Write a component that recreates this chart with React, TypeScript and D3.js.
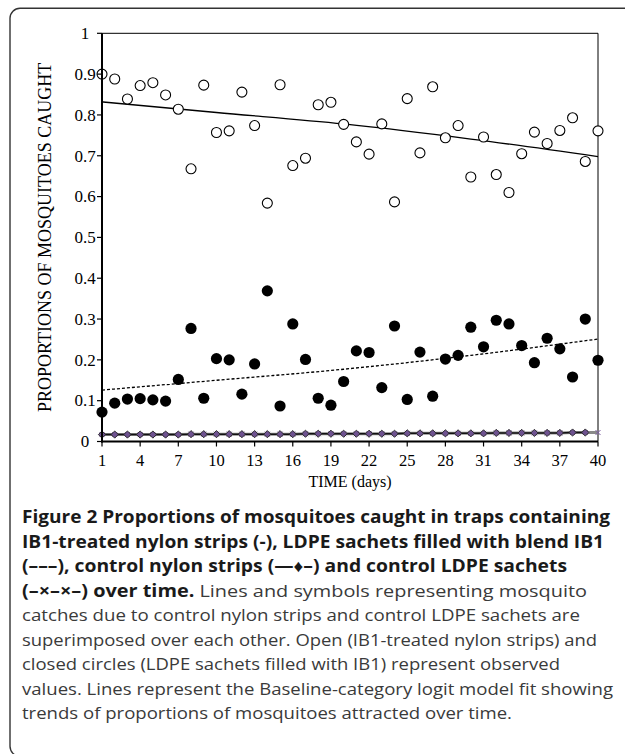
import React from "react";
import * as d3 from "d3";

// days of the experiment (x categories)
const days = d3.range(1, 41);
const xTickDays = [1, 4, 7, 10, 13, 16, 19, 22, 25, 28, 31, 34, 37, 40];

// IB1-treated nylon strips (open circles)
const nylonObserved = [
  0.900, 0.888, 0.839, 0.872, 0.879, 0.849, 0.814, 0.668, 0.873, 0.757,
  0.761, 0.856, 0.774, 0.584, 0.874, 0.676, 0.694, 0.825, 0.831, 0.777,
  0.734, 0.704, 0.778, 0.587, 0.840, 0.707, 0.869, 0.744, 0.774, 0.648,
  0.746, 0.654, 0.610, 0.705, 0.758, 0.730, 0.762, 0.793, 0.686, 0.761,
];

// LDPE sachets filled with IB1 (closed circles)
const sachetObserved = [
  0.072, 0.094, 0.104, 0.105, 0.102, 0.099, 0.152, 0.277, 0.106, 0.203,
  0.200, 0.116, 0.190, 0.369, 0.087, 0.288, 0.201, 0.106, 0.089, 0.147,
  0.222, 0.218, 0.132, 0.283, 0.103, 0.219, 0.111, 0.202, 0.211, 0.280,
  0.232, 0.297, 0.288, 0.235, 0.193, 0.253, 0.227, 0.158, 0.300, 0.199,
];

// model fits
const nylonFitDays = [1, 10, 20, 30, 40];
const nylonFit = [0.832, 0.806, 0.778, 0.741, 0.698];
const sachetFitDays = [1, 10, 20, 30, 40];
const sachetFit = [0.126, 0.150, 0.177, 0.211, 0.251];

// controls (superimposed)
const controlNylon = [
  0.017, 0.017, 0.017, 0.017, 0.017, 0.017, 0.017, 0.018, 0.018, 0.018,
  0.018, 0.018, 0.018, 0.018, 0.018, 0.018, 0.019, 0.019, 0.019, 0.019,
  0.019, 0.019, 0.019, 0.019, 0.020, 0.020, 0.020, 0.020, 0.020, 0.020,
  0.020, 0.021, 0.021, 0.021, 0.021, 0.021, 0.021, 0.022, 0.022,
];
const controlSachet = [
  0.017, 0.017, 0.017, 0.017, 0.017, 0.017, 0.017, 0.018, 0.018, 0.018,
  0.018, 0.018, 0.018, 0.018, 0.018, 0.018, 0.019, 0.019, 0.019, 0.019,
  0.019, 0.019, 0.019, 0.019, 0.020, 0.020, 0.020, 0.020, 0.020, 0.020,
  0.020, 0.021, 0.021, 0.021, 0.021, 0.021, 0.021, 0.022, 0.022, 0.022,
];

const yLabel = "PROPORTIONS OF MOSQUITOES CAUGHT";
const xLabel = "TIME (days)";

// caption lines: [text, bold]
const captionLines: { parts: [string, boolean][]; width: number }[] = [
  { parts: [["Figure 2 Proportions of mosquitoes caught in traps containing", true]], width: 588 },
  { parts: [["IB1-treated nylon strips (-), LDPE sachets filled with blend IB1", true]], width: 582 },
  { parts: [["(–––), control nylon strips (—♦–) and control LDPE sachets", true]], width: 545 },
  { parts: [["(–×–×–) over time.", true], [" Lines and symbols representing mosquito", false]], width: 565 },
  { parts: [["catches due to control nylon strips and control LDPE sachets are", false]], width: 558 },
  { parts: [["superimposed over each other. Open (IB1-treated nylon strips) and", false]], width: 575 },
  { parts: [["closed circles (LDPE sachets filled with IB1) represent observed", false]], width: 538 },
  { parts: [["values. Lines represent the Baseline-category logit model fit showing", false]], width: 591 },
  { parts: [["trends of proportions of mosquitoes attracted over time.", false]], width: 490 },
];

export default function App() {
  const W = 625;
  const H = 754;
  const plot = { left: 102, right: 598, top: 33.3, bottom: 441.5 };

  const x = d3.scaleLinear().domain([1, 40]).range([plot.left, plot.right]);
  const y = d3.scaleLinear().domain([0, 1]).range([plot.bottom, plot.top]);
  const yTicks = y.ticks(10);

  const fitLine = d3
    .line<[number, number]>()
    .x((d) => x(d[0]))
    .y((d) => y(d[1]))
    .curve(d3.curveMonotoneX);

  const nylonFitPath = fitLine(nylonFitDays.map((d, i) => [d, nylonFit[i]]));
  const sachetFitPath = fitLine(sachetFitDays.map((d, i) => [d, sachetFit[i]]));
  const straight = d3
    .line<[number, number]>()
    .x((d) => x(d[0]))
    .y((d) => y(d[1]));
  const ctrlSachetPath = straight(controlSachet.map((v, i) => [days[i], v]));
  const ctrlNylonPath = straight(controlNylon.map((v, i) => [days[i], v]));

  const serif = "'Liberation Serif', 'Times New Roman', serif";
  const sans = "'Open Sans', 'Noto Sans', sans-serif";

  return (
    <svg
      width={W}
      height={H}
      viewBox={`0 0 ${W} ${H}`}
      style={{ position: "absolute", left: 0, top: 0, background: "#fff" }}
    >
      <rect x={10} y={8.3} width={640} height={748} rx={10} fill="#fff" stroke="#333" strokeWidth={1.4} />

      {/* plot frame */}
      <line x1={plot.left} x2={plot.right} y1={plot.top} y2={plot.top} stroke="#000" strokeWidth={1} />
      <line x1={plot.right} x2={plot.right} y1={plot.top} y2={plot.bottom} stroke="#000" strokeWidth={1} />

      {/* fits */}
      <path d={nylonFitPath || ""} fill="none" stroke="#000" strokeWidth={1.3} />
      <path d={sachetFitPath || ""} fill="none" stroke="#000" strokeWidth={1.3} strokeDasharray="3,2" />

      {/* controls */}
      <path d={ctrlSachetPath || ""} fill="none" stroke="#8a8a8a" strokeWidth={3} />
      <path d={ctrlNylonPath || ""} fill="none" stroke="#111" strokeWidth={1.5} />
      {controlSachet.map((v, i) => {
        const cx = x(days[i]);
        const cy = y(v);
        return (
          <path
            key={"x" + i}
            d={`M${cx - 2.5},${cy - 2.5}L${cx + 2.5},${cy + 2.5}M${cx - 2.5},${cy + 2.5}L${cx + 2.5},${cy - 2.5}`}
            stroke="#7a5a9e"
            strokeWidth={1}
          />
        );
      })}
      {controlNylon.map((v, i) => {
        const cx = x(days[i]);
        const cy = y(v);
        const s = 3.6;
        return (
          <path
            key={"d" + i}
            d={`M${cx},${cy - s}L${cx + s},${cy}L${cx},${cy + s}L${cx - s},${cy}Z`}
            fill="#6e5290"
            stroke="#222"
            strokeWidth={0.9}
          />
        );
      })}

      {/* observed */}
      {nylonObserved.map((v, i) => (
        <circle key={"o" + i} cx={x(days[i])} cy={y(v)} r={5} fill="#fff" stroke="#000" strokeWidth={1.1} />
      ))}
      {sachetObserved.map((v, i) => (
        <circle key={"c" + i} cx={x(days[i])} cy={y(v)} r={5.6} fill="#000" />
      ))}

      {/* axes */}
      <line x1={plot.left} x2={plot.left} y1={plot.top} y2={plot.bottom + 1} stroke="#000" strokeWidth={2} />
      <line x1={plot.left - 1} x2={plot.right} y1={plot.bottom} y2={plot.bottom} stroke="#000" strokeWidth={2} />
      {yTicks.map((t) => (
        <g key={"yt" + t}>
          <line x1={plot.left - 5} x2={plot.left} y1={y(t)} y2={y(t)} stroke="#000" strokeWidth={1.2} />
          <text x={85} y={y(t)} dy="0.34em" textAnchor="middle" fontFamily={serif} fontSize={17} fill="#000">
            {String(+t.toFixed(1))}
          </text>
        </g>
      ))}
      {xTickDays.map((d) => (
        <g key={"xt" + d}>
          <line x1={x(d)} x2={x(d)} y1={plot.bottom} y2={plot.bottom + 5} stroke="#000" strokeWidth={1.2} />
          <text x={x(d)} y={466} textAnchor="middle" fontFamily={serif} fontSize={16.5} fill="#000">
            {d}
          </text>
        </g>
      ))}
      <text
        transform={`translate(51,${(plot.top + plot.bottom) / 2}) rotate(-90)`}
        textAnchor="middle"
        fontFamily={serif}
        fontSize={18}
        fill="#000"
      >
        {yLabel}
      </text>
      <text x={(plot.left + plot.right) / 2} y={487} textAnchor="middle" fontFamily={serif} fontSize={16} fill="#000">
        {xLabel}
      </text>

      {/* caption */}
      {captionLines.map((line, i) => (
        <text
          key={"cap" + i}
          x={22}
          y={523 + i * 24.5}
          fontFamily={sans}
          fontSize={17}
          fill="#333"
          textLength={line.width}
          lengthAdjust="spacingAndGlyphs"
        >
          {line.parts.map(([t, b], j) => (
            <tspan key={j} fontWeight={b ? 700 : 400} fill={b ? "#1a1a1a" : "#3a3a3a"}>
              {t}
            </tspan>
          ))}
        </text>
      ))}
    </svg>
  );
}
